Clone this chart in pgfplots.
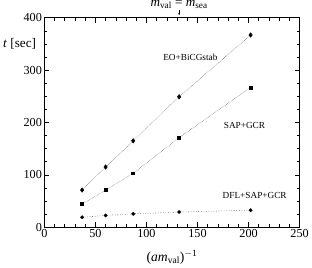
\documentclass[border=0pt]{standalone}
\usepackage{fontspec}
\setmainfont{Liberation Serif}
\usepackage{pgfplots}
\usetikzlibrary{arrows.meta}
\pgfplotsset{compat=1.18}
\begin{document}
\begin{tikzpicture}
\begin{axis}[
  scale only axis, width=262pt, height=215pt,
  xmin=0, xmax=250, ymin=0, ymax=400,
  xtick={0,50,...,250}, ytick={0,100,...,400},
  minor x tick num=4, minor y tick num=3,
  tick align=inside, tick pos=both,
  major tick length=5pt, minor tick length=3pt,
  axis line style={line width=0.8pt},
  every tick/.style={black, line width=0.6pt},
  /pgf/number format/assume math mode=true,
  ticklabel style={font=\fontsize{12.5}{14}\selectfont},
  xticklabel style={yshift=1pt},
  yticklabel style={xshift=1pt},
  xlabel={(\textit{am}\textsubscript{val})\textsuperscript{$-$1}},
  xlabel style={font=\fontsize{14}{16}\selectfont, yshift=-6pt},
  ylabel={\textit{t} [sec]},
  every axis y label/.style={at={(rel axis cs:0,0.874)}, anchor=east, xshift=-5pt, font=\fontsize{13.5}{15}\selectfont},
  clip=false,
]
\addplot[black!65, densely dotted, line width=0.5pt, mark=diamond*, mark size=2.3pt, mark options={black, solid}] coordinates {
  (37,71) (60,115) (87,165) (132,249) (202,367)};
\addplot[black!65, densely dotted, line width=0.5pt, mark=square*, mark size=1.5pt, mark options={black, solid}] coordinates {
  (37,44) (60,71) (87,103) (132,171) (202,267)};
\addplot[black!65, dotted, line width=0.6pt, mark=*, mark size=1.6pt, mark options={black, solid}] coordinates {
  (37,19) (60,22.5) (87,25.5) (132,29) (202,32.5)};
\node[font=\fontsize{9.5}{11}\selectfont] at (axis cs:143,325) {EO+BiCGstab};
\node[font=\fontsize{9.5}{11}\selectfont] at (axis cs:196,194) {SAP+GCR};
\node[font=\fontsize{9.5}{11}\selectfont] at (axis cs:206,60) {DFL+SAP+GCR};
\node[font=\fontsize{13.5}{15}\selectfont, anchor=base, inner sep=0pt] at (axis cs:132,422) {\textit{m}\textsubscript{val} = \textit{m}\textsubscript{sea}};
\draw[-{Stealth[length=2pt,width=2pt]}, line width=0.4pt] (axis cs:132,414) -- (axis cs:132,405);
\end{axis}
\end{tikzpicture}
\end{document}
